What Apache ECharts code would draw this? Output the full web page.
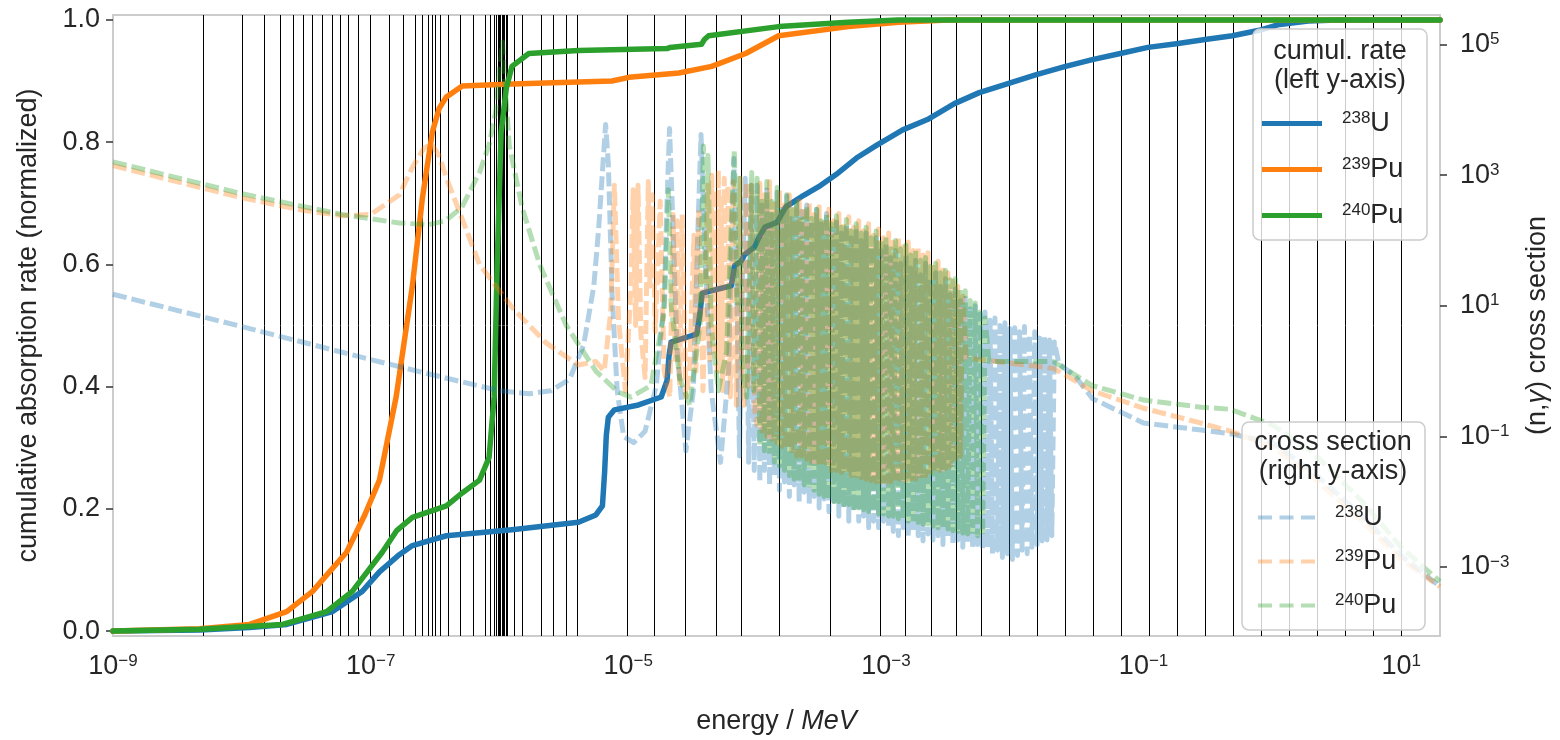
<!DOCTYPE html>
<html><head><meta charset="utf-8">
<script src="https://cdn.jsdelivr.net/npm/echarts@6/dist/echarts.min.js"></script>
<style>html,body{margin:0;padding:0;background:#fff}#c{width:1560px;height:740px}</style>
</head><body><div id="c"></div>
<script>
// ---------- tick values ----------
const xTickValues = [1e-9, 1e-7, 1e-5, 1e-3, 1e-1, 10];
const leftTickValues = [0, 0.2, 0.4, 0.6, 0.8, 1.0];
const rightTickValues = [1e-3, 1e-1, 10, 1e3, 1e5];

// ---------- energy group boundaries (MeV) ----------
const groupBoundaries = [10, 6.0655, 3.679, 2.231, 1.353, 0.821, 0.5, 0.3025, 0.183, 0.111, 0.06734, 0.04085,
  0.02478, 0.01503, 9.118e-3, 5.53e-3, 3.519e-3, 2.239e-3, 1.425e-3, 9.069e-4, 3.673e-4, 1.487e-4, 7.55e-5,
  4.805e-5, 2.77e-5, 1.597e-5, 9.877e-6, 4.0e-6, 3.3e-6, 2.6e-6, 2.1e-6, 1.5e-6, 1.3e-6, 1.15e-6, 1.123e-6,
  1.097e-6, 1.071e-6, 1.045e-6, 1.02e-6, 9.96e-7, 9.72e-7, 9.5e-7, 9.1e-7, 8.5e-7, 7.8e-7, 6.25e-7, 5.0e-7,
  4.0e-7, 3.5e-7, 3.2e-7, 3.0e-7, 2.8e-7, 2.5e-7, 2.2e-7, 1.8e-7, 1.4e-7, 1.0e-7, 8.0e-8, 6.7e-8, 5.8e-8,
  5.0e-8, 4.2e-8, 3.5e-8, 3.0e-8, 2.5e-8, 2.0e-8, 1.5e-8, 1.0e-8, 5.0e-9];

// ---------- cumulative absorption rate (left axis) [energy MeV, rate] ----------
const u238Rate = [[1e-9,0],[4.7e-9,0.002],[1.15e-8,0.006],[2.23e-8,0.011],[5.06e-8,0.032],[8.6e-8,0.065],
  [1.17e-7,0.097],[1.67e-7,0.125],[2.11e-7,0.14],[3.87e-7,0.156],[1.25e-6,0.166],[4.1e-6,0.178],[5.6e-6,0.19],
  [6.3e-6,0.205],[6.55e-6,0.26],[6.75e-6,0.32],[7.0e-6,0.35],[7.8e-6,0.362],[1.2e-5,0.37],[1.8e-5,0.383],
  [2.0e-5,0.41],[2.07e-5,0.45],[2.15e-5,0.473],[3.4e-5,0.486],[3.6e-5,0.52],[3.75e-5,0.553],[6.3e-5,0.565],
  [6.7e-5,0.598],[7.5e-5,0.605],[8e-5,0.616],[9.5e-5,0.628],[1.04e-4,0.645],[1.15e-4,0.661],[1.43e-4,0.669],
  [1.67e-4,0.694],[2.3e-4,0.713],[3.1e-4,0.729],[4.1e-4,0.747],[5.9e-4,0.774],[8.5e-4,0.795],[1.35e-3,0.82],
  [2.1e-3,0.837],[3.4e-3,0.863],[5.3e-3,0.881],[8.6e-3,0.895],[1.45e-2,0.91],[2.4e-2,0.923],[4.0e-2,0.935],
  [6.6e-2,0.945],[0.108,0.955],[0.18,0.961],[0.30,0.968],[0.49,0.974],[0.79,0.983],[1.1,0.992],[1.9,0.998],
  [3.2,1.0],[20,1.0]];
const pu239Rate = [[1e-9,0],[4.7e-9,0.004],[1.15e-8,0.011],[2.23e-8,0.032],[3.54e-8,0.065],[6.5e-8,0.129],
  [9.0e-8,0.19],[1.17e-7,0.247],[1.58e-7,0.384],[2.11e-7,0.565],[2.52e-7,0.708],[3.01e-7,0.816],[3.4e-7,0.855],
  [3.87e-7,0.874],[5.14e-7,0.892],[1.25e-6,0.895],[7.46e-6,0.9],[1.01e-5,0.906],[2.47e-5,0.913],[4.44e-5,0.924],
  [8.15e-5,0.945],[1.47e-4,0.974],[5.1e-4,0.989],[1.25e-3,0.996],[3.04e-3,1.0],[20,1.0]];
const pu240Rate = [[1e-9,0],[4.7e-9,0.003],[2.07e-8,0.011],[4.55e-8,0.032],[7.2e-8,0.065],[1.23e-7,0.129],
  [1.6e-7,0.165],[2.11e-7,0.186],[3.87e-7,0.205],[5.14e-7,0.226],[7.0e-7,0.247],[8.3e-7,0.284],[9.1e-7,0.384],
  [9.6e-7,0.6],[1.03e-6,0.816],[1.13e-6,0.888],[1.25e-6,0.924],[1.69e-6,0.945],[4.1e-6,0.95],[2.0e-5,0.953],
  [2.1e-5,0.955],[3.7e-5,0.96],[3.9e-5,0.968],[4.2e-5,0.974],[1.47e-4,0.989],[5.1e-4,0.996],[1.25e-3,1.0],[20,1.0]];

// ---------- (n,gamma) cross sections (right axis), barn ----------
// low-energy part incl. first resolved resonances [energy MeV, barn]
const u238Low = [[1e-9,15],[1e-8,4.8],[1e-7,1.5],[3e-7,0.88],[1e-6,0.5],[1.7e-6,0.45],[2.5e-6,0.5],[3.5e-6,0.75],
  [4.5e-6,2.5],[5.4e-6,20],[5.9e-6,160],[6.4e-6,1800],[6.67e-6,6000],[7.0e-6,1500],[7.5e-6,14],[8.2e-6,0.5],
  [9.2e-6,0.1],[1.1e-5,0.08],[1.35e-5,0.12],[1.65e-5,0.6],[1.9e-5,12],[2.0e-5,400],[2.09e-5,5200],[2.2e-5,300],
  [2.4e-5,2],[2.8e-5,0.06],[3.2e-5,0.5],[3.45e-5,100],[3.67e-5,4200],[3.9e-5,100],[4.4e-5,0.5],[5.2e-5,0.04],
  [6.0e-5,1],[6.3e-5,60],[6.6e-5,1800],[6.9e-5,40],[7.3e-5,0.05],[7.7e-5,30],[8.1e-5,900],[8.6e-5,0.04],
  [9.0e-5,700],[9.5e-5,0.03]];
const pu239Low = [[1e-9,1400],[1e-8,450],[3e-8,290],[6e-8,240],[1e-7,250],[1.67e-7,500],[2.1e-7,1300],
  [2.6e-7,2600],[2.96e-7,3000],[3.4e-7,2000],[3.85e-7,940],[5.5e-7,150],[7e-7,43],[1.26e-6,9.3],[2.3e-6,2.7],
  [4.1e-6,1.24],[5.6e-6,1.4],[6.5e-6,1.0],[7.3e-6,8],[7.8e-6,700],[8.4e-6,6],[9.5e-6,0.5],[1.05e-5,20],
  [1.09e-5,600],[1.14e-5,5],[1.19e-5,700],[1.25e-5,4],[1.35e-5,0.8],[1.43e-5,800],[1.47e-5,20],[1.54e-5,500],
  [1.62e-5,4],[1.77e-5,400],[1.9e-5,1.0],[2.1e-5,0.4],[2.23e-5,250],[2.3e-5,1.5],[2.39e-5,200],[2.5e-5,0.6],
  [2.62e-5,250],[2.8e-5,0.4],[3.0e-5,1.0],[3.23e-5,120],[3.35e-5,1.0],[3.53e-5,300],[3.8e-5,0.5],[4.14e-5,700],
  [4.3e-5,1.5],[4.45e-5,1000],[4.6e-5,2],[4.76e-5,600],[4.9e-5,1.0],[5.0e-5,1200],[5.15e-5,1.0],[5.26e-5,500],
  [5.4e-5,0.5],[5.56e-5,900],[5.74e-5,0.8],[5.92e-5,700],[6.2e-5,0.4],[6.54e-5,800],[6.9e-5,0.3],[7.4e-5,900],
  [7.51e-5,2],[7.9e-5,0.3],[8.27e-5,800],[8.54e-5,0.5],[9.08e-5,700],[9.6e-5,0.25]];
const pu240Low = [[1e-9,1600],[1e-8,520],[6e-8,250],[1.67e-7,185],[2.85e-7,175],[3.8e-7,200],[5.1e-7,320],
  [7.0e-7,1100],[8.3e-7,2900],[9.4e-7,1.0e4],[1.0e-6,4e4],[1.056e-6,1.1e5],[1.1e-6,3e4],[1.19e-6,2900],
  [1.5e-6,320],[2.05e-6,43],[3.3e-6,5],[5.6e-6,1.0],[8.3e-6,0.48],[1.05e-5,0.4],[1.5e-5,0.6],[1.9e-5,8],
  [2.05e-5,600],[2.15e-5,10],[2.5e-5,0.8],[3.0e-5,0.3],[3.6e-5,5],[3.83e-5,2800],[4.0e-5,20],[4.16e-5,2000],
  [4.4e-5,5],[5.0e-5,0.5],[5.8e-5,2],[6.2e-5,80],[6.66e-5,2400],[7.0e-5,10],[7.28e-5,900],[7.7e-5,1.0],
  [8.3e-5,0.4],[9.08e-5,1100],[9.4e-5,0.5]];

// dense resolved-resonance region: shared energy grid (MeV) and per-isotope peak/valley values (barn)
const resGridE = [
  1.00e-4,1.05e-4,1.09e-4,1.14e-4,1.19e-4,1.25e-4,1.30e-4,1.36e-4,1.43e-4,1.49e-4,1.56e-4,1.63e-4,1.70e-4,
  1.78e-4,1.86e-4,1.94e-4,2.03e-4,2.12e-4,2.22e-4,2.32e-4,2.43e-4,2.54e-4,2.65e-4,2.77e-4,2.90e-4,3.03e-4,
  3.16e-4,3.31e-4,3.46e-4,3.61e-4,3.78e-4,3.95e-4,4.13e-4,4.31e-4,4.51e-4,4.71e-4,4.93e-4,5.15e-4,5.38e-4,
  5.63e-4,5.88e-4,6.15e-4,6.43e-4,6.72e-4,7.02e-4,7.34e-4,7.68e-4,8.02e-4,8.39e-4,8.77e-4,9.16e-4,9.58e-4,
  1.00e-3,1.05e-3,1.09e-3,1.14e-3,1.19e-3,1.25e-3,1.30e-3,1.36e-3,1.43e-3,1.49e-3,1.56e-3,1.63e-3,1.70e-3,
  1.78e-3,1.86e-3,1.94e-3,2.03e-3,2.12e-3,2.22e-3,2.32e-3,2.43e-3,2.54e-3,2.65e-3,2.77e-3,2.90e-3,3.03e-3,
  3.16e-3,3.31e-3,3.46e-3,3.61e-3,3.78e-3,3.95e-3,4.13e-3,4.31e-3,4.51e-3,4.71e-3,4.93e-3,5.15e-3,5.38e-3,
  5.63e-3,5.88e-3,6.15e-3,6.43e-3,6.72e-3,7.02e-3,7.34e-3,7.68e-3,8.02e-3,8.39e-3,8.77e-3,9.16e-3,9.58e-3,
  1.00e-2,1.05e-2,1.09e-2,1.14e-2,1.19e-2,1.25e-2,1.30e-2,1.36e-2,1.43e-2,1.49e-2,1.56e-2,1.63e-2,1.70e-2,
  1.78e-2,1.86e-2,1.94e-2,2.03e-2];
const u238Res = [
  700,0.02,350,0.03,600,0.018,250,0.025,550,0.015,300,0.02,480,0.012,220,0.018,420,0.01,280,0.014,350,0.009,
  200,0.012,300,0.008,180,0.011,260,0.007,150,0.009,220,0.006,130,0.008,180,0.005,110,0.007,160,0.005,100,0.006,
  130,0.004,80,0.005,110,0.004,70,0.005,
  90,0.004,55,0.0035,70,0.003,45,0.004,60,0.0028,38,0.0035,50,0.003,30,0.0025,45,0.0032,26,0.0026,32,0.003,
  20,0.0022,26,0.0028,15,0.0022,18,0.0026,12,0.002,13,0.0024,9,0.0019,10,0.0022,7.5,0.0018,8,0.002,6,0.0016,
  6.5,0.0018,5,0.0014,5.5,0.0016,4.5,0.0013,
  4.6,0.0015,4.0,0.0018,4.8,0.0016,3.6,0.002,4.0,0.0022,3.2,0.0025,3.4,0.0026,3.0,0.003,2.8];
const pu239Res = [
  0.15,750,0.12,500,0.1,800,0.09,400,0.08,600,0.07,350,0.065,500,0.06,300,0.05,450,0.05,280,0.045,380,0.04,
  250,0.04,330,0.035,220,0.035,300,0.03,200,0.03,260,0.028,180,0.027,230,0.025,160,0.025,200,0.023,140,0.022,
  180,0.021,120,0.02,150,0.02,110,
  0.02,130,0.02,95,0.02,115,0.02,80,0.021,95,0.022,70,0.022,80,0.023,60,0.025,65,0.026,45,0.028,48,0.03,35,
  0.032,32,0.035,24,0.04,20,0.05,14];
const pu240Res = [
  900,0.07,450,0.06,800,0.05,400,0.04,650,0.035,330,0.03,500,0.025,300,0.022,420,0.02,250,0.018,350,0.016,
  220,0.015,300,0.013,200,0.012,260,0.011,180,0.01,240,0.01,160,0.009,210,0.009,140,0.008,180,0.008,130,0.0075,
  160,0.007,110,0.007,140,0.0065,100,0.0065,
  115,0.006,85,0.006,100,0.0055,75,0.0055,85,0.005,60,0.005,70,0.0048,50,0.0045,55,0.0045,40,0.0042,45,0.004,
  32,0.004,35,0.0038,25,0.0036,26,0.0035,18,0.0033,17,0.0032,12,0.003,11,0.003,8,0.003,6.5];

// smooth high-energy part [energy MeV, barn]
const u238High = [[2.2e-2,1.3],[3e-2,0.8],[4e-2,0.38],[1e-1,0.16],[0.28,0.125],[0.47,0.11],[1.0,0.08],[2,0.03],
  [5,0.006],[10,0.0015],[20,0.0005]];
const pu239High = [[4.2e-3,1.6],[1e-2,1.3],[2e-2,1.1],[4e-2,0.5],[1e-1,0.27],[0.28,0.16],[0.47,0.12],[1.0,0.07],
  [2,0.025],[5,0.005],[10,0.0013],[20,0.0005]];
const pu240High = [[6.3e-3,1.4],[2e-2,1.4],[4e-2,0.6],[1e-1,0.36],[0.28,0.28],[0.47,0.26],[1.0,0.15],[2,0.06],
  [5,0.01],[10,0.002],[20,0.0006]];

function xsTable(low, res, high) {
  return low.concat(res.map((v, i) => [resGridE[i], v]), high);
}

// ---------- styling ----------
const FONT = "'Liberation Sans', Arial, Helvetica, sans-serif";
const INK = '#262626';
const C_BLUE = '#1f77b4', C_ORANGE = '#ff7f0e', C_GREEN = '#2ca02c';
const XS_OPACITY = 0.35;
const LEFT_MIN = -0.008, LEFT_MAX = 1.008;

function powLabel(v) {
  const e = Math.round(Math.log10(v));
  return '{b|10}{s|' + (e < 0 ? '\u2212' + (-e) : String(e)) + '}';
}
const powRich = {
  b: { fontSize: 27, lineHeight: 27, padding: [11, 0, 11, 0], fontFamily: FONT, color: INK },
  s: { fontSize: 17, lineHeight: 17, verticalAlign: 'top', fontFamily: FONT, color: INK }
};
const legendRich = {
  b: { fontSize: 27, lineHeight: 27, padding: [4, 0, 4, 0], fontFamily: FONT, color: INK },
  s: { fontSize: 17, lineHeight: 17, verticalAlign: 'top', padding: [0, 0, 0, 15], fontFamily: FONT, color: INK }
};
function legendFmt(name) {
  const m = name.split(':')[1].match(/^(\d+)(\D+)$/);
  return '{s|' + m[1] + '}{b|' + m[2] + '}';
}
function rgba(hex, a) {
  const n = parseInt(hex.slice(1), 16);
  return 'rgba(' + (n >> 16) + ',' + ((n >> 8) & 255) + ',' + (n & 255) + ',' + a + ')';
}

function rateSeries(name, data, color) {
  return { name, type: 'line', data, xAxisIndex: 0, yAxisIndex: 0, z: 2, showSymbol: false, symbol: 'none',
    color, lineStyle: { color, width: 5.5, cap: 'round', join: 'round' }, silent: true, animation: false };
}
function xsSeries(name, data, color) {
  return { name, type: 'line', data, xAxisIndex: 0, yAxisIndex: 1, z: 3, showSymbol: false, symbol: 'none',
    color: rgba(color, XS_OPACITY), sampling: null,
    lineStyle: { color, width: 5, opacity: XS_OPACITY, type: [14, 5], cap: 'butt', join: 'round' },
    silent: true, animation: false };
}
const dashIcon = 'path://M0 0H14V4H0Z M21.5 0H35.5V4H21.5Z M43 0H57V4H43Z';

const chart = echarts.init(document.getElementById('c'), null, { renderer: 'canvas' });
chart.setOption({
  animation: false,
  backgroundColor: '#ffffff',
  textStyle: { fontFamily: FONT, color: INK },
  grid: { left: 113, right: 120, top: 15, bottom: 95, show: true, borderColor: '#cccccc', borderWidth: 2,
    backgroundColor: 'transparent', containLabel: false },
  xAxis: {
    type: 'log', logBase: 10, min: 1e-9, max: 20,
    name: 'energy / {i|MeV}', nameLocation: 'middle', nameGap: 72,
    nameTextStyle: { fontSize: 27, fontFamily: FONT, color: INK,
      rich: { i: { fontSize: 27, fontStyle: 'italic', fontFamily: FONT, color: INK } } },
    axisLine: { show: false }, axisTick: { show: false }, splitLine: { show: false }, minorTick: { show: false },
    axisLabel: { customValues: xTickValues, formatter: powLabel, rich: powRich, margin: 17, color: INK }
  },
  yAxis: [
    {
      type: 'value', min: LEFT_MIN, max: LEFT_MAX, position: 'left',
      name: 'cumulative absorption rate (normalized)', nameLocation: 'middle', nameGap: 71,
      nameTextStyle: { fontSize: 27, fontFamily: FONT, color: INK },
      axisLine: { show: false }, splitLine: { show: false },
      axisTick: { show: true, customValues: leftTickValues, length: 7, lineStyle: { color: '#333', width: 1.5 } },
      axisLabel: { customValues: leftTickValues, formatter: v => v.toFixed(1), fontSize: 27, fontFamily: FONT,
        color: INK, margin: 13 }
    },
    {
      type: 'log', logBase: 10, min: 8.77e-5, max: 2.84e5, position: 'right',
      name: '(n,{i|\u03b3}) cross section', nameLocation: 'middle', nameGap: 84, nameRotate: 90,
      nameTextStyle: { fontSize: 27, fontFamily: FONT, color: INK,
        rich: { i: { fontSize: 27, fontStyle: 'italic', fontFamily: FONT, color: INK } } },
      axisLine: { show: false }, splitLine: { show: false }, minorTick: { show: false },
      axisTick: { show: true, customValues: rightTickValues, length: 7, lineStyle: { color: '#333', width: 1.5 } },
      axisLabel: { customValues: rightTickValues, formatter: powLabel, rich: powRich, margin: 20, color: INK }
    }
  ],
  legend: [
    { orient: 'vertical', left: 1262, top: 106, padding: 0, itemWidth: 60, itemHeight: 5, itemGap: 11,
      icon: 'rect', selectedMode: false, z: 50,
      data: ['rate:238U', 'rate:239Pu', 'rate:240Pu'],
      formatter: legendFmt, textStyle: { fontFamily: FONT, fontSize: 27, color: INK, rich: legendRich } },
    { orient: 'vertical', left: 1258, top: 500, padding: 0, itemWidth: 57, itemHeight: 4, itemGap: 9,
      selectedMode: false, z: 50,
      data: [
        { name: 'xs:238U', icon: dashIcon, itemStyle: { color: rgba(C_BLUE, XS_OPACITY) } },
        { name: 'xs:239Pu', icon: dashIcon, itemStyle: { color: rgba(C_ORANGE, XS_OPACITY) } },
        { name: 'xs:240Pu', icon: dashIcon, itemStyle: { color: rgba(C_GREEN, XS_OPACITY) } }
      ],
      formatter: legendFmt, textStyle: { fontFamily: FONT, fontSize: 27, color: INK, rich: legendRich } }
  ],
  graphic: { elements: [
    { type: 'rect', silent: true, z: 40, shape: { x: 1253, y: 29, width: 174, height: 211, r: 7 },
      style: { fill: 'rgba(255,255,255,0.8)', stroke: '#cccccc', lineWidth: 1.5 } },
    { type: 'rect', silent: true, z: 40, shape: { x: 1242, y: 422, width: 183, height: 208, r: 7 },
      style: { fill: 'rgba(255,255,255,0.8)', stroke: '#cccccc', lineWidth: 1.5 } },
    { type: 'text', silent: true, z: 45, x: 1340, y: 37.5,
      style: { text: 'cumul. rate\n(left y-axis)', fontSize: 27, fontFamily: FONT, fill: INK,
        align: 'center', verticalAlign: 'top', lineHeight: 29 } },
    { type: 'text', silent: true, z: 45, x: 1333, y: 428.5,
      style: { text: 'cross section\n(right y-axis)', fontSize: 27, fontFamily: FONT, fill: INK,
        align: 'center', verticalAlign: 'top', lineHeight: 29 } }
  ] },
  series: [
    { name: 'group boundaries', type: 'lines', coordinateSystem: 'cartesian2d', xAxisIndex: 0, yAxisIndex: 0,
      z: 1, silent: true, animation: false, polyline: false, large: false,
      lineStyle: { color: '#000000', width: 1, opacity: 1, type: 'solid' },
      data: groupBoundaries.map(e => ({ coords: [[e, LEFT_MIN], [e, LEFT_MAX]] })) },
    rateSeries('rate:238U', u238Rate, C_BLUE),
    rateSeries('rate:239Pu', pu239Rate, C_ORANGE),
    rateSeries('rate:240Pu', pu240Rate, C_GREEN),
    xsSeries('xs:238U', xsTable(u238Low, u238Res, u238High), C_BLUE),
    xsSeries('xs:239Pu', xsTable(pu239Low, pu239Res, pu239High), C_ORANGE),
    xsSeries('xs:240Pu', xsTable(pu240Low, pu240Res, pu240High), C_GREEN)
  ]
});
</script>
</body></html>
